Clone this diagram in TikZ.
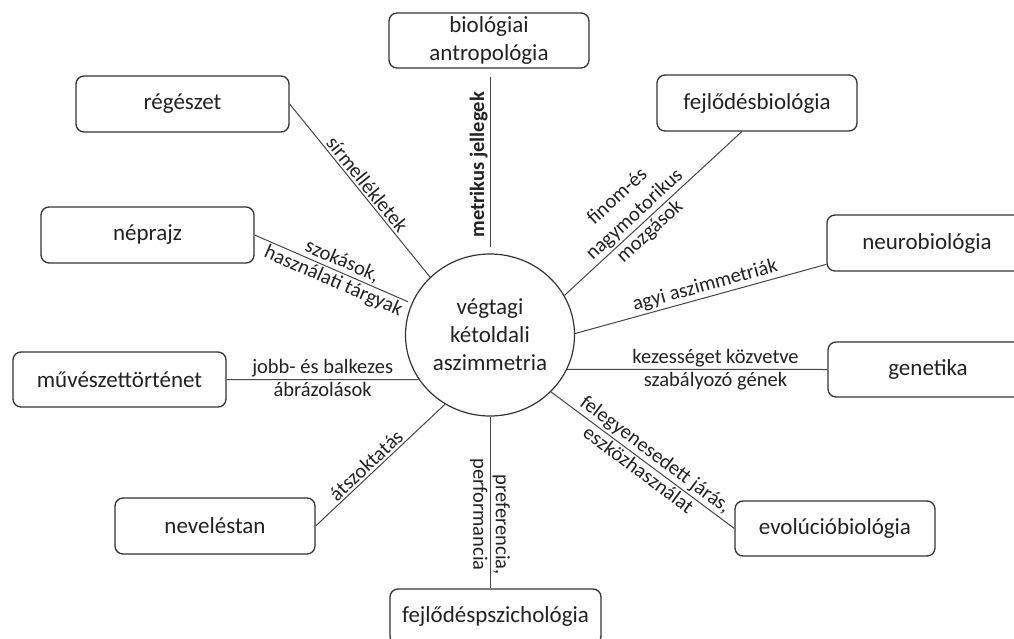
\documentclass[tikz,border=0pt]{standalone}
\usepackage{fontspec}
\setmainfont{Carlito}
\usetikzlibrary{shapes.geometric,calc}
\definecolor{ln}{HTML}{454545}
\definecolor{bx}{HTML}{333333}
\definecolor{tx}{HTML}{222222}
\begin{document}
\begin{tikzpicture}[x=1pt,y=-1pt,
  box/.style={draw=bx, line width=1.3pt, rounded corners=8pt, fill=white, text=tx, align=center, font=\fontsize{23}{28}\selectfont, inner sep=0pt},
  conn/.style={draw=ln, line width=1pt},
  lbl/.style={text=tx, font=\fontsize{20.5}{25}\selectfont, inner sep=2pt, align=center},
  hub/.style={draw=bx, line width=1.2pt, ellipse, minimum width=169pt, minimum height=162pt, inner sep=0pt, text=tx, align=center, font=\fontsize{23}{28}\selectfont}
]
\clip (0,0) rectangle (1014,639);
\fill[white] (0,0) rectangle (1014,639);

\node[hub] (c) at (490,335) {végtagi\\kétoldali\\aszimmetria};

\node[box, minimum width=200pt, minimum height=55pt] (bio) at (489,40.5) {biológiai\\antropológia};
\node[box, minimum width=213pt, minimum height=56pt] (reg) at (182.5,104) {régészet};
\node[box, minimum width=213pt, minimum height=56pt] (nep) at (147.5,235) {néprajz};
\node[box, minimum width=213pt, minimum height=55pt] (muv) at (119.5,379.5) {művészettörténet};
\node[box, minimum width=200pt, minimum height=56pt] (nev) at (215,526) {neveléstan};
\node[box, minimum width=211pt, minimum height=55pt] (fpsz) at (495.5,616.5) {fejlődéspszichológia};
\node[box, minimum width=200pt, minimum height=55pt] (evo) at (835,528.5) {evolúcióbiológia};
\node[box, minimum width=200pt, minimum height=55pt] (gen) at (928,369.5) {genetika};
\node[box, minimum width=200pt, minimum height=56pt] (neu) at (927,243) {neurobiológia};
\node[box, minimum width=200pt, minimum height=56pt] (fbio) at (757,103) {fejlődésbiológia};

\draw[conn, shorten <=8pt, shorten >=6pt] (bio.south -| c.north) -- (c.north)
  node[lbl, pos=0.52, rotate=90, anchor=south, font=\fontsize{20.5}{25}\selectfont\bfseries] {metrikus jellegek};
\draw[conn] (reg.east) -- (c.136)
  node[lbl, sloped, above, pos=0.5] {sírmellékletek};
\draw[conn, shorten >=4pt] (nep.east) -- (c.158)
  node[lbl, sloped, above, pos=0.53] {szokások,}
  node[lbl, sloped, below, pos=0.53] {használati tárgyak};
\draw[conn] (muv.east) -- (c.212)
  node[lbl, above, pos=0.5] {jobb- és balkezes}
  node[lbl, below, pos=0.5] {ábrázolások};
\draw[conn] (nev.east) -- (c.237)
  node[lbl, sloped, above, pos=0.44] {átszoktatás};
\draw[conn] (c.south) -- (c.south |- fpsz.north)
  node[lbl, pos=0.63, rotate=-90, anchor=south] {preferencia,}
  node[lbl, pos=0.57, rotate=-90, anchor=north] {performancia};
\draw[conn] (c.317) -- (evo.west)
  node[lbl, sloped, above, pos=0.53] {felegyenesedett járás,}
  node[lbl, sloped, below, pos=0.51] {eszközhasználat};
\draw[conn] (c.336) -- (gen.west)
  node[lbl, above, pos=0.57] {kezességet közvetve}
  node[lbl, below, pos=0.57] {szabályozó gének};
\draw[conn] (c.1) -- (neu.192)
  node[lbl, sloped, above, pos=0.53] {agyi aszimmetriák};
\draw[conn] (c.28) -- (fbio.242)
  node[lbl, sloped, above, pos=0.44] {finom-és\\nagymotorikus}
  node[lbl, sloped, below, pos=0.44] {mozgások};
\end{tikzpicture}
\end{document}
